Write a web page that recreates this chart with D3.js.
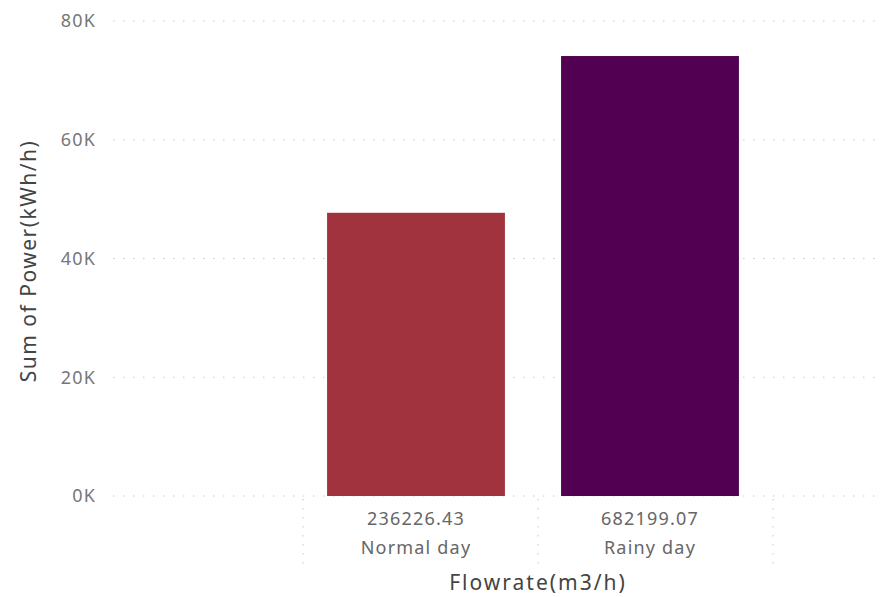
<!DOCTYPE html>
<html>
<head>
<meta charset="utf-8">
<script src="https://cdn.jsdelivr.net/npm/d3@7"></script>
<style>
  body { margin: 0; background: #fff; }
  text { font-family: "Noto Sans", "Open Sans", sans-serif; }
</style>
</head>
<body>
<div id="chart"></div>
<script>
const categories = ['Normal day', 'Rainy day'];
const flowrates = ['236226.43', '682199.07'];
const powers = [47700, 74100];
const barColors = ['#a0333d', '#520052'];
const yTicks = [0, 20000, 40000, 60000, 80000];

const width = 882,
  height = 597;

const svg = d3
  .select('#chart')
  .append('svg')
  .attr('width', width)
  .attr('height', height);

const yScale = d3.scaleLinear().domain([0, 80000]).range([496, 21]);

const xScale = d3
  .scaleBand()
  .domain(categories)
  .range([299, 767])
  .paddingInner(0.24)
  .paddingOuter(0.12);

// gridlines
svg
  .append('g')
  .selectAll('line')
  .data(yTicks)
  .enter()
  .append('line')
  .attr('x1', 113)
  .attr('x2', 880)
  .attr('y1', (d) => yScale(d))
  .attr('y2', (d) => yScale(d))
  .attr('stroke', '#c8c8c8')
  .attr('stroke-width', 1)
  .attr('stroke-dasharray', '1.5,8.5');

// y tick labels
svg
  .append('g')
  .selectAll('text')
  .data(yTicks)
  .enter()
  .append('text')
  .attr('x', 96)
  .attr('y', (d) => yScale(d))
  .attr('dy', '0.35em')
  .attr('text-anchor', 'end')
  .attr('fill', '#777')
  .style('font-size', '18px')
  .style('letter-spacing', '1.2px')
  .text((d) => `${d / 1000}K`);

// bars
svg
  .append('g')
  .selectAll('rect')
  .data(categories)
  .enter()
  .append('rect')
  .attr('x', (d) => xScale(d))
  .attr('width', xScale.bandwidth())
  .attr('y', (d, i) => yScale(powers[i]))
  .attr('height', (d, i) => yScale(0) - yScale(powers[i]))
  .attr('fill', (d, i) => barColors[i]);

// category separators
const edges = [303, 538, 773];
svg
  .append('g')
  .selectAll('line')
  .data(edges)
  .enter()
  .append('line')
  .attr('x1', (d) => d)
  .attr('x2', (d) => d)
  .attr('y1', 499)
  .attr('y2', 566)
  .attr('stroke', '#c8c8c8')
  .attr('stroke-width', 1)
  .attr('stroke-dasharray', '1.5,7.5');

const center = (d) => xScale(d) + xScale.bandwidth() / 2;

svg
  .append('g')
  .selectAll('text')
  .data(categories)
  .enter()
  .append('text')
  .attr('x', center)
  .attr('y', 525)
  .attr('text-anchor', 'middle')
  .attr('fill', '#666')
  .style('font-size', '18px')
  .style('letter-spacing', '1.2px')
  .text((d, i) => flowrates[i]);

svg
  .append('g')
  .selectAll('text')
  .data(categories)
  .enter()
  .append('text')
  .attr('x', center)
  .attr('y', 554)
  .attr('text-anchor', 'middle')
  .attr('fill', '#666')
  .style('font-size', '18px')
  .style('letter-spacing', '1.2px')
  .text((d) => d);

// axis titles
svg
  .append('text')
  .attr('x', 538)
  .attr('y', 590)
  .attr('text-anchor', 'middle')
  .attr('fill', '#444')
  .style('font-size', '21px')
  .style('letter-spacing', '2px')
  .text('Flowrate(m3/h)');

svg
  .append('text')
  .attr('transform', 'translate(36, 261) rotate(-90)')
  .attr('text-anchor', 'middle')
  .attr('fill', '#444')
  .style('font-size', '21px')
  .style('letter-spacing', '1.5px')
  .text('Sum of Power(kWh/h)');
</script>
</body>
</html>
